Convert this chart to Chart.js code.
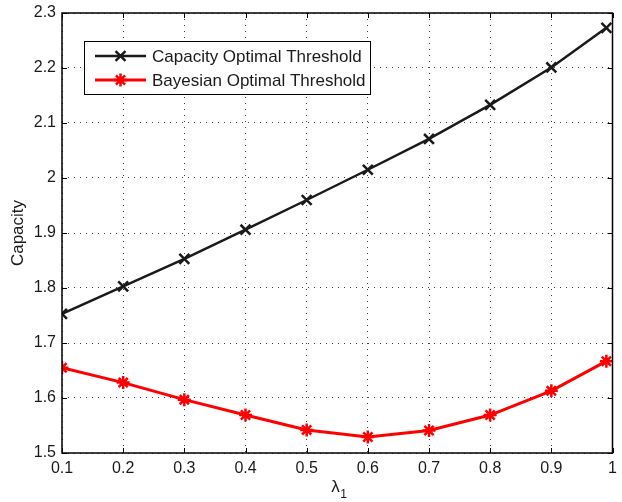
<!DOCTYPE html>
<html>
<head>
<meta charset="utf-8">
<script src="https://cdn.jsdelivr.net/npm/chart.js@4/dist/chart.umd.min.js"></script>
<style>
  html, body { margin: 0; padding: 0; background: #fff; }
  #wrap { width: 622px; height: 502px; }
</style>
</head>
<body>
<div id="wrap"><canvas id="c" width="622" height="502"></canvas></div>
<script>
// ---- data ----
const lambdaValues = [0.1, 0.2, 0.3, 0.4, 0.5, 0.6, 0.7, 0.8, 0.9, 0.99];
const capacityOptimal = [1.753, 1.803, 1.853, 1.906, 1.960, 2.015, 2.071, 2.133, 2.201, 2.273];
const bayesianOptimal = [1.655, 1.628, 1.597, 1.569, 1.542, 1.529, 1.541, 1.569, 1.613, 1.667];
const seriesLabels = ['Capacity Optimal Threshold', 'Bayesian Optimal Threshold'];
const xTickValues = [0.1, 0.2, 0.3, 0.4, 0.5, 0.6, 0.7, 0.8, 0.9, 1.0];
const xTickLabels = ['0.1', '0.2', '0.3', '0.4', '0.5', '0.6', '0.7', '0.8', '0.9', '1'];
const yTickValues = [1.5, 1.6, 1.7, 1.8, 1.9, 2.0, 2.1, 2.2, 2.3];
const yTickLabels = ['1.5', '1.6', '1.7', '1.8', '1.9', '2', '2.1', '2.2', '2.3'];
const xTitle = 'λ';
const xTitleSub = '1';
const yTitle = 'Capacity';

const FONT = '"Liberation Sans", Arial, Helvetica, sans-serif';
const BLACK = '#1a1a1a';
const RED = '#ff0000';

function toPoints(ys) { return lambdaValues.map((x, i) => ({ x: x, y: ys[i] })); }

function drawMarker(ctx, style, radius, lw, color, x, y) {
  ctx.save();
  ctx.strokeStyle = color;
  ctx.lineWidth = lw;
  ctx.beginPath();
  const d = radius * Math.SQRT1_2;
  if (style === 'crossRot' || style === 'star') {
    ctx.moveTo(x - d, y - d); ctx.lineTo(x + d, y + d);
    ctx.moveTo(x + d, y - d); ctx.lineTo(x - d, y + d);
  }
  if (style === 'star') {
    ctx.moveTo(x - radius, y); ctx.lineTo(x + radius, y);
    ctx.moveTo(x, y - radius); ctx.lineTo(x, y + radius);
  }
  ctx.stroke();
  ctx.restore();
}

const framePlugin = {
  id: 'frame',
  afterDatasetsDraw(chart) {
    const { ctx, chartArea: a, scales } = chart;
    ctx.save();
    // inner tick marks
    ctx.strokeStyle = '#000';
    ctx.lineWidth = 1;
    ctx.beginPath();
    xTickValues.forEach(v => {
      const px = Math.round(scales.x.getPixelForValue(v)) + 0.5;
      ctx.moveTo(px, a.bottom); ctx.lineTo(px, a.bottom - 5);
      ctx.moveTo(px, a.top); ctx.lineTo(px, a.top + 5);
    });
    yTickValues.forEach(v => {
      const py = Math.round(scales.y.getPixelForValue(v)) + 0.5;
      ctx.moveTo(a.left, py); ctx.lineTo(a.left + 5, py);
      ctx.moveTo(a.right, py); ctx.lineTo(a.right - 5, py);
    });
    ctx.stroke();
    // frame
    ctx.lineWidth = 1.5;
    ctx.strokeRect(a.left, a.top, a.right - a.left, a.bottom - a.top);

    // legend
    const lx = 84.5, ly = 41.5, lw = 286, lh = 53;
    ctx.fillStyle = '#fff';
    ctx.fillRect(lx, ly, lw, lh);
    ctx.lineWidth = 1;
    ctx.strokeStyle = '#000';
    ctx.strokeRect(lx, ly, lw, lh);
    const rows = [56, 80];
    chart.data.datasets.forEach((ds, i) => {
      const y = rows[i];
      ctx.strokeStyle = ds.borderColor;
      ctx.lineWidth = ds.borderWidth;
      ctx.beginPath();
      ctx.moveTo(95, y); ctx.lineTo(146, y);
      ctx.stroke();
      drawMarker(ctx, ds.pointStyle, ds.pointRadius, ds.pointBorderWidth, ds.borderColor, 120.5, y);
      ctx.fillStyle = '#1a1a1a';
      ctx.font = '17px ' + FONT;
      ctx.textBaseline = 'middle';
      ctx.textAlign = 'left';
      ctx.fillText(ds.label, 152, y + 1);
    });

    // axis titles
    ctx.fillStyle = '#1a1a1a';
    ctx.font = '17px ' + FONT;
    ctx.textAlign = 'left';
    ctx.textBaseline = 'alphabetic';
    const cx = (a.left + a.right) / 2;
    ctx.fillText(xTitle, cx - 6, 492);
    ctx.font = '12px ' + FONT;
    ctx.fillText(xTitleSub, cx + 3, 498);
    ctx.save();
    ctx.translate(23, (a.top + a.bottom) / 2);
    ctx.rotate(-Math.PI / 2);
    ctx.font = '17px ' + FONT;
    ctx.textAlign = 'center';
    ctx.textBaseline = 'alphabetic';
    ctx.fillText(yTitle, 0, 0);
    ctx.restore();
    ctx.restore();
  }
};

new Chart(document.getElementById('c'), {
  type: 'line',
  data: {
    datasets: [
      {
        label: seriesLabels[0],
        data: toPoints(capacityOptimal),
        borderColor: BLACK,
        backgroundColor: BLACK,
        borderWidth: 2.5,
        pointStyle: 'crossRot',
        pointRadius: 7,
        pointBorderWidth: 2.5,
        pointBorderColor: BLACK,
        tension: 0,
        fill: false
      },
      {
        label: seriesLabels[1],
        data: toPoints(bayesianOptimal),
        borderColor: RED,
        backgroundColor: RED,
        borderWidth: 3,
        pointStyle: 'star',
        pointRadius: 6.5,
        pointBorderWidth: 2.5,
        pointBorderColor: RED,
        tension: 0,
        fill: false
      }
    ]
  },
  options: {
    responsive: false,
    animation: false,
    devicePixelRatio: 1,
    layout: { padding: { top: 13, right: 3, left: 0, bottom: 0 } },
    plugins: { legend: { display: false }, tooltip: { enabled: false }, title: { display: false } },
    scales: {
      x: {
        type: 'linear',
        min: 0.1,
        max: 1.0,
        afterBuildTicks: s => { s.ticks = xTickValues.map(v => ({ value: v })); },
        afterFit: s => { s.height = 49; s.paddingLeft = 0; s.paddingRight = 0; },
        ticks: {
          callback: (v, i) => xTickLabels[i],
          font: { size: 16, family: FONT },
          color: '#1a1a1a',
          padding: 6,
          maxRotation: 0,
          autoSkip: false
        },
        grid: { color: 'rgba(0,0,0,0.75)', lineWidth: 1, drawTicks: false },
        border: { display: false, dash: [1, 5] }
      },
      y: {
        type: 'linear',
        min: 1.5,
        max: 2.3,
        afterBuildTicks: s => { s.ticks = yTickValues.map(v => ({ value: v })); },
        afterFit: s => { s.width = 62; s.paddingTop = 0; s.paddingBottom = 0; },
        ticks: {
          callback: (v, i) => yTickLabels[i],
          font: { size: 16, family: FONT },
          color: '#1a1a1a',
          padding: 6,
          autoSkip: false
        },
        grid: { color: 'rgba(0,0,0,0.75)', lineWidth: 1, drawTicks: false },
        border: { display: false, dash: [1, 5] }
      }
    }
  },
  plugins: [framePlugin]
});
</script>
</body>
</html>
